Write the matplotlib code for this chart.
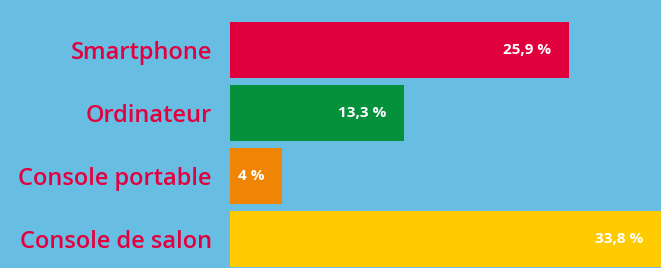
import numpy as np
import matplotlib.pyplot as plt

# Data
categories = ["Smartphone", "Ordinateur", "Console portable", "Console de salon"]
values = [25.9, 13.3, 4.0, 33.8]
value_labels = ["25,9 %", "13,3 %", "4 %", "33,8 %"]
colors = ["#e0003e", "#05903c", "#f08505", "#ffcb00"]

bg = "#68bde3"
label_color = "#e2003f"

fig = plt.figure(figsize=(6.61, 2.68), dpi=100)
fig.patch.set_facecolor(bg)
ax = fig.add_axes([0, 0, 1, 1])
ax.set_facecolor(bg)

y = np.arange(len(categories))
ax.barh(y, values, height=0.9, color=colors, left=0)

# pixel layout: x=0 at 230 px, ~13.1 px per %
px = 13.1
xmax = (661 - 230) / px
ax.set_xlim(-230 / px, xmax)
ax.set_ylim((268 - 50) / 63, -50 / 63)
ax.axis("off")

for i, (cat, v, lab) in enumerate(zip(categories, values, value_labels)):
    ax.annotate(cat, xy=(0, i), xytext=(-18, -3), textcoords="offset pixels",
                ha="right", va="center", color=label_color,
                fontsize=17, fontweight=600, family="Open Sans")
    # the last bar runs past the edge, so keep its label inside the picture
    ax.annotate(lab, xy=(min(v, xmax), i), xytext=(-18, 0), textcoords="offset pixels",
                ha="right", va="center", color="white",
                fontsize=11, fontweight="bold", family="Open Sans")

plt.savefig("out.png", dpi=100, facecolor=bg)
